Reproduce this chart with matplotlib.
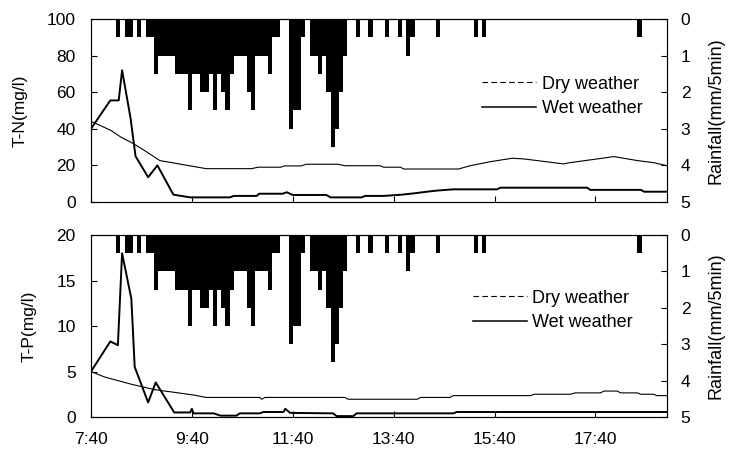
import numpy as np
import matplotlib.pyplot as plt
from matplotlib.lines import Line2D

plt.rcParams['font.family'] = ['Liberation Sans', 'DejaVu Sans']
plt.rcParams['font.size'] = 12.5

# time in minutes after 7:40
tick_min = [0, 120, 240, 360, 480, 600]
tick_lab = ['7:40', '9:40', '11:40', '13:40', '15:40', '17:40']
t_end = 685

# rainfall per 5 min (mm), one value per interval starting 7:40
rain = [0, 0, 0, 0, 0, 0, 0.5, 0, 0.5, 0.5,
        0, 0.5, 0, 0.5, 0.5, 1.5, 1.0, 1.0, 1.0, 1.0,
        1.5, 1.5, 1.5, 2.5, 1.5, 1.5, 2.0, 2.0, 1.5, 2.5,
        1.5, 2.0, 2.5, 1.5, 1.0, 1.0, 1.0, 2.0, 2.5, 1.0,
        1.0, 1.0, 1.5, 0.5, 0.5, 0, 0, 3.0, 2.5, 2.5,
        0.5, 0, 1.0, 1.0, 1.5, 1.0, 2.0, 3.5, 3.0, 2.0,
        1.0, 0, 0, 0.5, 0, 0, 0.5, 0, 0, 0,
        0.5, 0, 0, 0.5, 0, 1.0, 0.5, 0, 0, 0,
        0, 0, 0.5, 0, 0, 0, 0, 0, 0, 0,
        0, 0.5, 0, 0.5, 0, 0, 0, 0, 0, 0,
        0, 0, 0, 0, 0, 0, 0, 0, 0, 0,
        0, 0, 0, 0, 0, 0, 0, 0, 0, 0,
        0, 0, 0, 0, 0, 0, 0, 0, 0, 0,
        0.5]
rain_edges = np.arange(len(rain) + 1) * 5

# T-N (mg/l)
tn_dry_t = [0, 10, 24, 36, 50, 64, 74, 82, 96, 112, 137, 191, 199, 226, 230, 250,
            256, 294, 302, 344, 348, 368, 372, 437, 451, 475, 501, 515, 531, 562,
            570, 602, 622, 650, 669, 685]
tn_dry = [44, 42, 39, 35.3, 32, 28, 25, 22.6, 21.5, 20.2, 18.2, 18.2, 19, 19, 19.7, 19.7,
          20.6, 20.6, 19.8, 19.8, 19, 19, 18, 18, 19.8, 22, 23.9, 23.5, 22.6, 20.8,
          21.5, 23.5, 24.8, 22.6, 21.5, 19.8]
tn_wet_t = [0, 23, 33, 37, 47, 53, 68, 79, 98, 118, 165, 170, 197, 200, 228, 233,
            240, 280, 285, 322, 326, 348, 370, 384, 396, 411, 431, 483, 487, 590,
            594, 654, 658, 685]
tn_wet = [40, 55.5, 55.5, 72, 46, 25, 13.5, 20, 4, 2.5, 2.5, 3.3, 3.3, 4.5, 4.5, 5.3,
          3.8, 3.8, 2.5, 2.5, 3.3, 3.3, 4, 4.7, 5.4, 6.2, 6.9, 6.9, 7.8, 7.8,
          6.6, 6.6, 5.6, 5.6]

# T-P (mg/l)
tp_dry_t = [0, 16, 32, 48, 76, 100, 123, 137, 201, 203, 207, 302, 306, 388, 392, 427,
            431, 523, 527, 570, 576, 606, 610, 626, 630, 650, 654, 669, 673, 685]
tp_dry = [5.0, 4.4, 4.0, 3.6, 3.0, 2.7, 2.4, 2.15, 2.15, 1.95, 2.15, 2.15, 1.95, 1.95, 2.15, 2.15,
          2.35, 2.35, 2.5, 2.5, 2.65, 2.65, 2.85, 2.85, 2.65, 2.65, 2.5, 2.5, 2.35, 2.35]
tp_wet_t = [0, 23, 32, 37, 48, 52, 68, 77, 99, 118, 120, 122, 146, 154, 173, 177,
            201, 205, 229, 231, 237, 288, 292, 312, 316, 431, 435, 685]
tp_wet = [5.0, 8.3, 7.9, 18, 13, 5.5, 1.6, 3.8, 0.5, 0.5, 0.9, 0.4, 0.4, 0.15, 0.15, 0.4,
          0.4, 0.55, 0.55, 0.9, 0.45, 0.4, 0.1, 0.1, 0.4, 0.4, 0.55, 0.55]

fig = plt.figure(figsize=(7.29, 4.59), dpi=100)
ax1 = fig.add_axes([0.1248, 0.560, 0.790, 0.3987])
ax2 = fig.add_axes([0.1248, 0.0915, 0.790, 0.3965])


def panel(ax, dry_t, dry_v, wet_t, wet_v, ymax, ystep, ylabel, leg_xy, show_x):
    ax.plot(dry_t, dry_v, color='k', lw=0.8)
    ax.plot(wet_t, wet_v, color='k', lw=1.4)
    ax.set_xlim(0, t_end)
    ax.set_ylim(0, ymax)
    ax.set_yticks(np.arange(0, ymax + 1, ystep))
    ax.set_xticks(tick_min)
    ax.set_xticklabels(tick_lab if show_x else [])
    ax.tick_params(direction='in', length=4, pad=11, top=False)
    ax.tick_params(axis='x', pad=11)
    ax.set_ylabel(ylabel, labelpad=14)
    rx = ax.twinx()
    rx.stairs(rain, rain_edges, baseline=0, fill=True, color='k', lw=0)
    rx.set_ylim(5, 0)
    rx.set_yticks(range(0, 6))
    rx.tick_params(direction='in', length=4, pad=10)
    rx.set_ylabel('Rainfall(mm/5min)', fontsize=13, labelpad=12)
    handles = [Line2D([], [], color='k', lw=0.8, ls=(0, (5, 3))),
               Line2D([], [], color='k', lw=1.1)]
    rx.legend(handles, ['Dry weather', 'Wet weather'], loc='upper left',
              bbox_to_anchor=leg_xy, frameon=False, borderpad=0, borderaxespad=0,
              fontsize=13, handlelength=3.0, handletextpad=0.3, labelspacing=0.4)


panel(ax1, tn_dry_t, tn_dry, tn_wet_t, tn_wet, 100, 20, 'T-N(mg/l)', (0.679, 0.69), False)
panel(ax2, tp_dry_t, tp_dry, tp_wet_t, tp_wet, 20, 5, 'T-P(mg/l)', (0.663, 0.70), True)

fig.savefig('out.png', dpi=100)
